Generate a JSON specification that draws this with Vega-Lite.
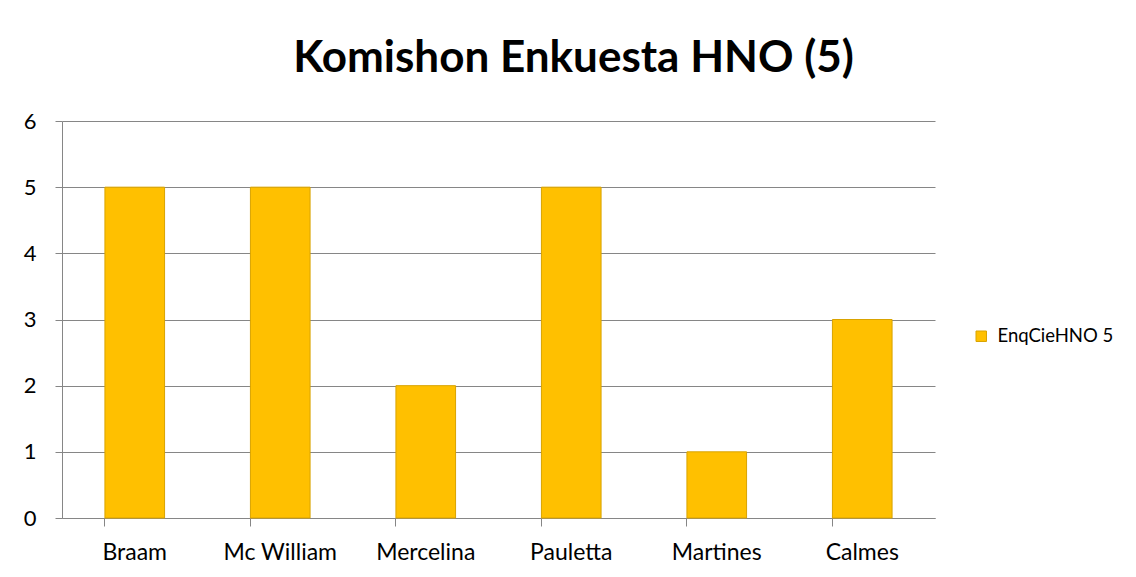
{
  "$schema": "https://vega.github.io/schema/vega-lite/v6.json",
  "autosize": {"type": "none"},
  "width": 873,
  "height": 397,
  "padding": {"left": 62, "top": 121, "right": 201, "bottom": 59},
  "background": "white",
  "config": {
    "view": {"stroke": null},
    "font": "Lato"
  },
  "title": {
    "text": "Komishon Enkuesta HNO (5)",
    "fontSize": 44,
    "fontWeight": "bold",
    "font": "Lato",
    "color": "#000000",
    "anchor": "middle",
    "dx": 75,
    "offset": 29
  },
  "data": {
    "values": [
      {"name": "Braam", "value": 5, "series": "EnqCieHNO 5"},
      {"name": "Mc William", "value": 5, "series": "EnqCieHNO 5"},
      {"name": "Mercelina", "value": 2, "series": "EnqCieHNO 5"},
      {"name": "Pauletta", "value": 5, "series": "EnqCieHNO 5"},
      {"name": "Martines", "value": 1, "series": "EnqCieHNO 5"},
      {"name": "Calmes", "value": 3, "series": "EnqCieHNO 5"}
    ]
  },
  "mark": {"type": "bar", "stroke": "#D9A300", "strokeWidth": 1},
  "encoding": {
    "x": {
      "field": "name",
      "type": "nominal",
      "sort": null,
      "scale": {"paddingInner": 0.59, "paddingOuter": 0.295},
      "axis": {
        "title": null,
        "labelAngle": 0,
        "labelFontSize": 23,
        "labelColor": "#000000",
        "labelPadding": 15,
        "bandPosition": 0,
        "tickSize": 8,
        "tickColor": "#868686",
        "domainColor": "#868686",
        "grid": false
      }
    },
    "y": {
      "field": "value",
      "type": "quantitative",
      "scale": {"domain": [0, 6]},
      "axis": {
        "title": null,
        "values": [0, 1, 2, 3, 4, 5, 6],
        "labelFontSize": 22,
        "labelColor": "#000000",
        "labelPadding": 19,
        "tickSize": 7,
        "tickColor": "#868686",
        "domainColor": "#868686",
        "gridColor": "#868686",
        "gridWidth": 1
      }
    },
    "color": {
      "field": "series",
      "type": "nominal",
      "scale": {"domain": ["EnqCieHNO 5"], "range": ["#FFC000"]},
      "legend": {
        "title": null,
        "orient": "none",
        "legendX": 910,
        "legendY": 206,
        "symbolType": "square",
        "symbolSize": 110,
        "symbolStrokeColor": "#D9A300",
        "symbolStrokeWidth": 1,
        "labelFontSize": 18.5,
        "labelColor": "#000000",
        "labelOffset": 7
      }
    }
  }
}
